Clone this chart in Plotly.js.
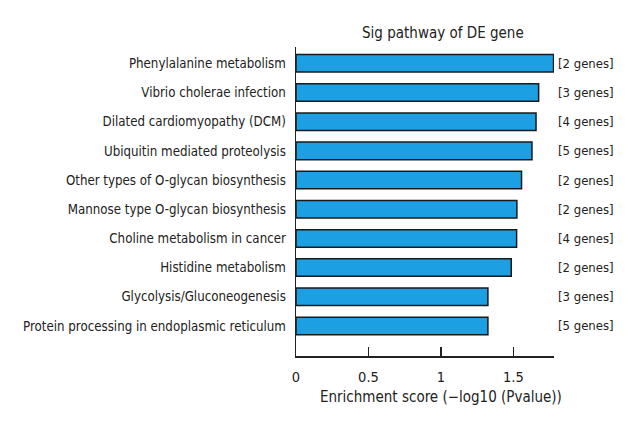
<!DOCTYPE html>
<html>
<head>
<meta charset="utf-8">
<script src="https://cdn.plot.ly/plotly-3.0.1.min.js"></script>
<style>html,body{margin:0;padding:0;background:#fff;}#chart{width:640px;height:440px;}</style>
</head>
<body>
<div id="chart"></div>
<script>
const pathways = [
  "Protein processing in endoplasmic reticulum",
  "Glycolysis/Gluconeogenesis",
  "Histidine metabolism",
  "Choline metabolism in cancer",
  "Mannose type O-glycan biosynthesis",
  "Other types of O-glycan biosynthesis",
  "Ubiquitin mediated proteolysis",
  "Dilated cardiomyopathy (DCM)",
  "Vibrio cholerae infection",
  "Phenylalanine metabolism"
];
const scores = [1.324, 1.324, 1.485, 1.522, 1.524, 1.556, 1.628, 1.656, 1.674, 1.777];
const geneLabels = ["[5 genes]", "[3 genes]", "[2 genes]", "[4 genes]", "[2 genes]", "[2 genes]", "[5 genes]", "[4 genes]", "[3 genes]", "[2 genes]"];
const xTicks = [0, 0.5, 1, 1.5];
const xTickText = ["0", "0.5", "1", "1.5"];

const FONT = "'DejaVu Sans Condensed', 'Liberation Sans Narrow', sans-serif";

const trace = {
  type: 'bar',
  orientation: 'h',
  x: scores,
  y: pathways,
  width: 0.6,
  marker: {color: '#1C9FE3', line: {color: '#1a1a1a', width: 1.5}},
  hoverinfo: 'x+y'
};

const annotations = pathways.map((p, i) => ({
  xref: 'paper', yref: 'y', x: 1, y: p,
  xanchor: 'left', yanchor: 'middle', xshift: 2,
  text: geneLabels[i], showarrow: false,
  font: {family: FONT, size: 13, color: '#222'}
}));
annotations.push({
  xref: 'paper', yref: 'paper', x: 0.562, y: 0, yshift: -41,
  xanchor: 'center', yanchor: 'middle', showarrow: false,
  text: 'Enrichment score (\u2212log10 (Pvalue))',
  font: {family: FONT, size: 15, color: '#222'}
});

const layout = {
  width: 640, height: 440,
  margin: {l: 296, r: 86, t: 47, b: 84, pad: 0},
  paper_bgcolor: '#fff', plot_bgcolor: '#fff',
  font: {family: FONT, size: 14, color: '#222'},
  showlegend: false,
  title: {
    text: 'Sig pathway of DE gene',
    font: {family: FONT, size: 15, color: '#222'},
    x: 0.692, xref: 'container', xanchor: 'center',
    y: 0.925, yref: 'container', yanchor: 'middle'
  },
  xaxis: {
    range: [0, 1.78],
    tickvals: xTicks, ticktext: xTickText,
    ticks: 'inside', ticklen: 9, tickwidth: 1.3, tickcolor: '#222',
    showline: true, linecolor: '#222', linewidth: 1.5,
    showgrid: false, zeroline: false,
    ticklabelstandoff: 7,
    tickfont: {family: FONT, size: 14.5, color: '#222'},
    fixedrange: true
  },
  yaxis: {
    type: 'category',
    range: [-1.03, 9.56],
    showline: true, linecolor: '#222', linewidth: 1.5,
    ticks: '', showgrid: false, zeroline: false,
    ticklabelstandoff: 6,
    tickfont: {family: FONT, size: 13.2, color: '#222'},
    fixedrange: true
  },
  annotations: annotations,
  bargap: 0.4
};

Plotly.newPlot('chart', [trace], layout, {displayModeBar: false, staticPlot: true});
</script>
</body>
</html>
